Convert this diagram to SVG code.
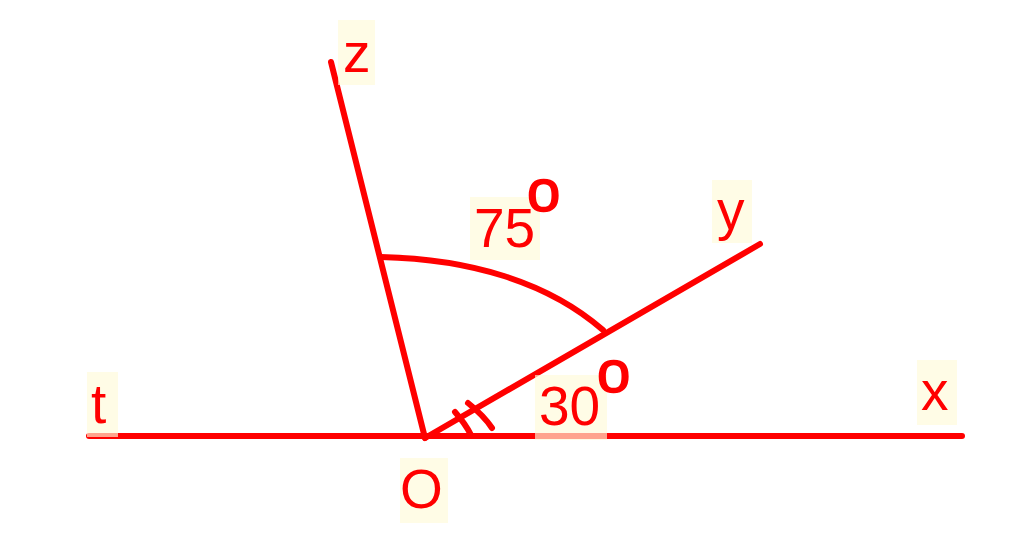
<svg xmlns="http://www.w3.org/2000/svg" width="1024" height="541" viewBox="0 0 1024 541">
<style>
.ln{stroke:#ff0000;stroke-width:6;fill:none;stroke-linecap:round;stroke-linejoin:round}
.bx{fill:#fffbd8;opacity:0.65}
.lb{font-family:"Liberation Sans",Arial,sans-serif;font-size:55px;fill:#ff0000}
.dg{font-family:"Liberation Sans",Arial,sans-serif;font-size:60px;fill:#ff0000;stroke:#ff0000;stroke-width:1.6}
</style>
<rect width="1024" height="541" fill="#ffffff"/>
<g id="connectors">
<line class="ln" x1="89" y1="436" x2="962" y2="436"/>
<line class="ln" x1="331" y1="62" x2="425" y2="438"/>
<line class="ln" x1="425" y1="438" x2="760" y2="244"/>
<path class="ln" d="M381,257 C470,259 548,282 603,330"/>
<path class="ln" d="M455,412 C462,420 467,427 471,435"/>
<path class="ln" d="M468,403 C478,411 486,419 492,428"/>
</g>
<g id="label-z"><rect class="bx" x="338" y="20" width="37" height="65"/><text class="lb" x="343" y="72">z</text></g>
<g id="label-75"><rect class="bx" x="470" y="197" width="70" height="63"/><text class="lb" x="474" y="247">75</text><text class="dg" x="527" y="211">o</text></g>
<g id="label-y"><rect class="bx" x="712" y="180" width="40" height="63"/><text class="lb" x="717" y="229">y</text></g>
<g id="label-30"><rect class="bx" x="535" y="375" width="72" height="65"/><text class="lb" x="539" y="425">30</text><text class="dg" x="597" y="392">o</text></g>
<g id="label-t"><rect class="bx" x="87" y="372" width="31" height="65"/><text class="lb" x="91" y="423">t</text></g>
<g id="label-x"><rect class="bx" x="917" y="360" width="40" height="65"/><text class="lb" x="921" y="410">x</text></g>
<g id="label-O"><rect class="bx" x="400" y="458" width="48" height="65"/><text class="lb" x="400" y="508">O</text></g>
</svg>
